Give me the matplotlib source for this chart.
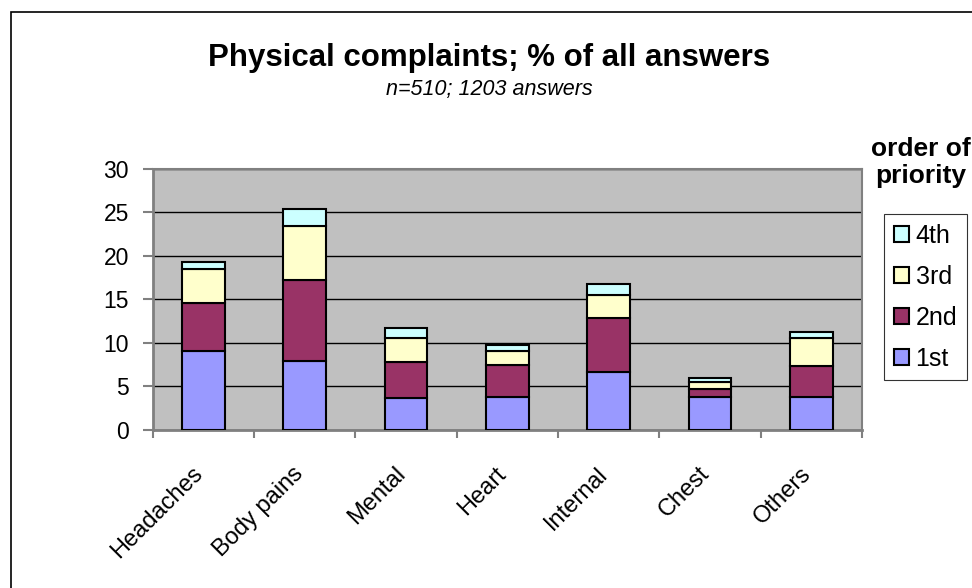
import matplotlib.pyplot as plt
import numpy as np
from matplotlib.patches import Rectangle
from matplotlib.transforms import ScaledTranslation

categories = ["Headaches", "Body pains", "Mental", "Heart", "Internal", "Chest", "Others"]
first = [9.1, 7.9, 3.6, 3.75, 6.6, 3.8, 3.8]
second = [5.5, 9.3, 4.2, 3.75, 6.2, 0.9, 3.5]
third = [3.9, 6.2, 2.7, 1.6, 2.7, 0.8, 3.2]
fourth = [0.8, 2.0, 1.2, 0.7, 1.2, 0.4, 0.7]

series = [("1st", first, "#9999FF"), ("2nd", second, "#993366"),
          ("3rd", third, "#FFFFCC"), ("4th", fourth, "#CCFFFF")]

FONT = "Liberation Sans"

fig = plt.figure(figsize=(9.72, 5.88), dpi=100)
ax = fig.add_axes([0.157, 0.269, 0.73, 0.444])
ax.set_facecolor("#C0C0C0")

x = np.arange(len(categories))
bottom = np.zeros(len(categories))
handles = []
for label, vals, color in series:
    b = ax.bar(x, vals, 0.42, bottom=bottom, color=color, edgecolor="black",
               linewidth=1.5, label=label, zorder=3)
    handles.append(b)
    bottom += np.array(vals)

ax.set_xlim(-0.5, len(categories) - 0.5)
ax.set_ylim(0, 30)
ax.set_yticks(range(0, 31, 5))
ax.yaxis.grid(True, color="black", linewidth=1, zorder=0)
ax.set_axisbelow(True)

# category labels: top-right corner of each rotated label sits below-left of the bar
ax.set_xticks(np.arange(-0.5, len(categories), 1))
ax.set_xticklabels([])
ax.tick_params(axis="x", length=6, direction="out", color="#808080", width=1.5)
label_tf = ax.get_xaxis_transform() + ScaledTranslation(-0.12, -0.33, fig.dpi_scale_trans)
for xi, name in zip(x, categories):
    ax.text(xi, 0, name, transform=label_tf, rotation=45, rotation_mode="anchor",
            ha="right", va="top", fontsize=17, family=FONT, clip_on=False)

ax.tick_params(axis="y", length=7, direction="out", color="#808080", width=1.5, pad=10,
               labelsize=16.5)
for t in ax.get_yticklabels():
    t.set_family(FONT)

for side in ["top", "right"]:
    ax.spines[side].set_color("#808080")
    ax.spines[side].set_linewidth(1.5)
for side in ["left", "bottom"]:
    ax.spines[side].set_color("#808080")
    ax.spines[side].set_linewidth(2)

fig.text(0.503, 0.902, "Physical complaints; % of all answers", ha="center", va="center",
         fontsize=22.5, fontweight="bold", family=FONT)
fig.text(0.503, 0.848, "n=510; 1203 answers", ha="center", va="center",
         fontsize=15.5, style="italic", family=FONT)
fig.text(0.947, 0.724, "order of\npriority", ha="center", va="center",
         fontsize=19, fontweight="bold", family=FONT, linespacing=1.15)

leg = fig.legend(handles[::-1], [s[0] for s in series][::-1], loc="upper left",
                 bbox_to_anchor=(0.9095, 0.636), frameon=True, fancybox=False,
                 edgecolor="black", handlelength=0.6, handleheight=0.6,
                 handletextpad=0.28, labelspacing=0.68, borderpad=0.38,
                 borderaxespad=0, prop={"family": FONT, "size": 18})
leg.get_frame().set_linewidth(0.8)

fig.patches.append(Rectangle((11 / 972, -0.1), 1.2, 1.1 - 12 / 588,
                             transform=fig.transFigure, fill=False,
                             edgecolor="black", linewidth=1.2))

fig.savefig("out.png", dpi=100)
